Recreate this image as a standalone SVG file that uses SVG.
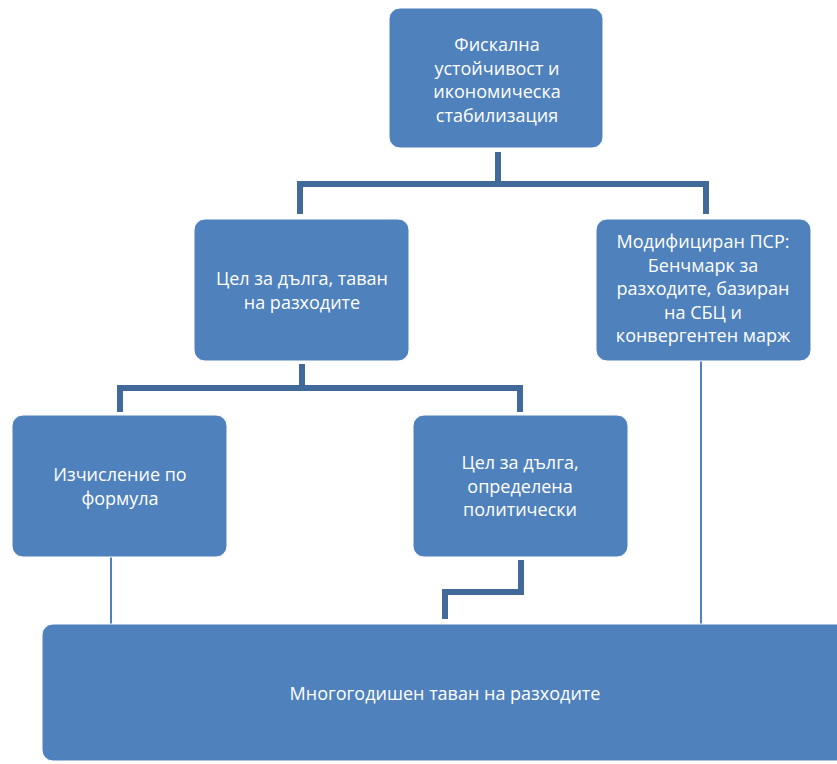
<svg xmlns="http://www.w3.org/2000/svg" width="837" height="764" viewBox="0 0 837 764">
<style>
.box{fill:#4f81bd;stroke:#ffffff;stroke-width:1}
.t{font-family:"Open Sans","Liberation Sans",sans-serif;font-size:18px;fill:#ffffff;text-anchor:middle}
.thick{stroke:#41699a;stroke-width:6;fill:none}
.thin{stroke:#4f81bd;stroke-width:2;fill:none}
</style>
<rect width="837" height="764" fill="#ffffff"/>
<g id="connectors">
<path class="thick" d="M498,152 V184 M300,214 V184 H706 V214"/>
<path class="thick" d="M302,364 V388 M120,412 V388 H520 V412"/>
<path class="thick" d="M521,560 V592 H445 V619"/>
<path class="thin" d="M111,557 V635"/>
<path class="thin" d="M701,361 V635"/>
</g>
<g id="n1">
<rect class="box" x="389" y="8" width="214" height="140" rx="11"/>
<text class="t" x="497" y="51">Фискална</text>
<text class="t" x="497" y="74.5">устойчивост и</text>
<text class="t" x="497" y="98">икономическа</text>
<text class="t" x="497" y="121.5">стабилизация</text>
</g>
<g id="n2">
<rect class="box" x="194" y="219" width="215" height="142" rx="11"/>
<text class="t" x="302" y="285">Цел за дълга, таван</text>
<text class="t" x="302" y="308.5">на разходите</text>
</g>
<g id="n3">
<rect class="box" x="596" y="219" width="215" height="142" rx="11"/>
<text class="t" x="703" y="248">Модифициран ПСР:</text>
<text class="t" x="703" y="271.5">Бенчмарк за</text>
<text class="t" x="703" y="295">разходите, базиран</text>
<text class="t" x="703" y="318.5">на СБЦ и</text>
<text class="t" x="703" y="342">конвергентен марж</text>
</g>
<g id="n4">
<rect class="box" x="12" y="415" width="215" height="142" rx="11"/>
<text class="t" x="120" y="481">Изчисление по</text>
<text class="t" x="120" y="504.5">формула</text>
</g>
<g id="n5">
<rect class="box" x="413" y="415" width="215" height="142" rx="11"/>
<text class="t" x="520" y="469">Цел за дълга,</text>
<text class="t" x="520" y="492.5">определена</text>
<text class="t" x="520" y="516">политически</text>
</g>
<g id="n6">
<rect class="box" x="42" y="624" width="810" height="137" rx="11"/>
<text class="t" x="445" y="700" font-size="19.5">Многогодишен таван на разходите</text>
</g>
</svg>
